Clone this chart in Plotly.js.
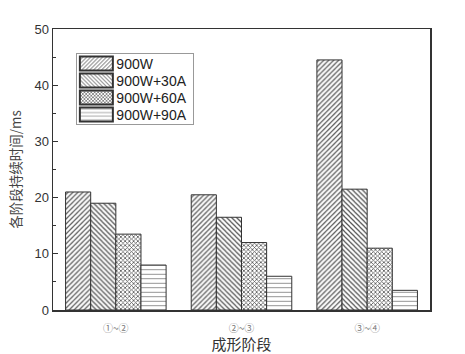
<!DOCTYPE html>
<html>
<head>
<meta charset="utf-8">
<script src="https://cdn.plot.ly/plotly-3.0.1.min.js"></script>
<style>html,body{margin:0;padding:0;background:#fff}</style>
</head>
<body>
<div id="chart" style="width:465px;height:354px"></div>
<script>
var stages = ['①~②', '②~③', '③~④'];
var seriesNames = ['900W', '900W+30A', '900W+60A', '900W+90A'];
var s900W = [21, 20.5, 44.5];
var s900W30A = [19, 16.5, 21.5];
var s900W60A = [13.5, 12, 11];
var s900W90A = [8, 6, 3.5];
var yTicks = [0, 10, 20, 30, 40, 50];

var values = [s900W, s900W30A, s900W60A, s900W90A];
var patterns = [
  {shape: '/', size: 3.5, solidity: 0.35, fgcolor: '#555', bgcolor: '#fff'},
  {shape: '\\', size: 3.5, solidity: 0.35, fgcolor: '#555', bgcolor: '#fff'},
  {shape: 'x', size: 3, solidity: 0.45, fgcolor: '#555', bgcolor: '#fff'},
  {shape: '-', size: 4.5, solidity: 0.2, fgcolor: '#888', bgcolor: '#fff'}
];
var traces = seriesNames.map(function (n, i) {
  return {
    type: 'bar', name: n, x: stages, y: values[i],
    marker: {color: '#fff', pattern: patterns[i], line: {color: '#333', width: 1}}
  };
});

var layout = {
  width: 465, height: 354,
  margin: {l: 53, r: 35, t: 29, b: 44},
  paper_bgcolor: '#fff', plot_bgcolor: '#fff',
  barmode: 'group', bargap: 0.2, bargroupgap: 0,
  font: {family: 'Liberation Sans, Arial, sans-serif', color: '#333'},
  showlegend: true,
  legend: {
    x: 0.062, y: 0.915, xanchor: 'left', yanchor: 'top',
    bgcolor: '#fff', bordercolor: '#999', borderwidth: 1,
    font: {size: 14, color: '#222'}, tracegroupgap: 0,
    itemsizing: 'constant'
  },
  xaxis: {
    type: 'category', range: [-0.5, 2.5],
    showline: true, linecolor: '#333', linewidth: 1.5, mirror: true,
    ticks: '', showgrid: false, zeroline: false, ticklabelstandoff: 8,
    tickfont: {size: 10, color: '#777', family: 'Noto Sans CJK SC, DejaVu Sans'},
    title: {text: '成形阶段', font: {size: 15, family: 'Noto Sans CJK SC', color: '#333'}, standoff: 5}
  },
  yaxis: {
    range: [0, 50], tickvals: yTicks,
    showline: true, linecolor: '#333', linewidth: 1.5, mirror: true,
    ticks: 'inside', ticklen: 5, tickcolor: '#333',
    minor: {dtick: 5, ticks: 'inside', ticklen: 3, tickcolor: '#333'},
    showgrid: false, zeroline: false,
    tickfont: {size: 13, color: '#333'},
    title: {text: '各阶段持续时间/ms', font: {size: 13.5, family: 'Noto Sans CJK SC', color: '#444'}, standoff: 9}
  }
};
var gd = document.getElementById('chart');
Plotly.newPlot(gd, traces, layout, {displayModeBar: false, staticPlot: true}).then(function () {
  // widen legend swatches and tighten rows to look like the original legend
  var rowH = 17, top = 10.5;
  var items = gd.querySelectorAll('.legend .traces');
  items.forEach(function (g, i) {
    g.setAttribute('transform', 'translate(0,' + (top + rowH * i) + ')');
    var p = g.querySelector('.legendpoints path');
    if (p) p.setAttribute('d', 'M16.5,7H-16.5V-7H16.5Z');
    var t = g.querySelector('text.legendtext');
    if (t) t.setAttribute('x', '40');
  });
  var h = top + rowH * (items.length - 1) + 10;
  var bg = gd.querySelector('.legend rect.bg');
  if (bg) bg.setAttribute('height', h);
  gd.querySelectorAll('.legend clipPath rect, .legend .scrollbox rect').forEach(function (r) {
    if (r !== bg) r.setAttribute('height', h);
  });
});
</script>
</body>
</html>
